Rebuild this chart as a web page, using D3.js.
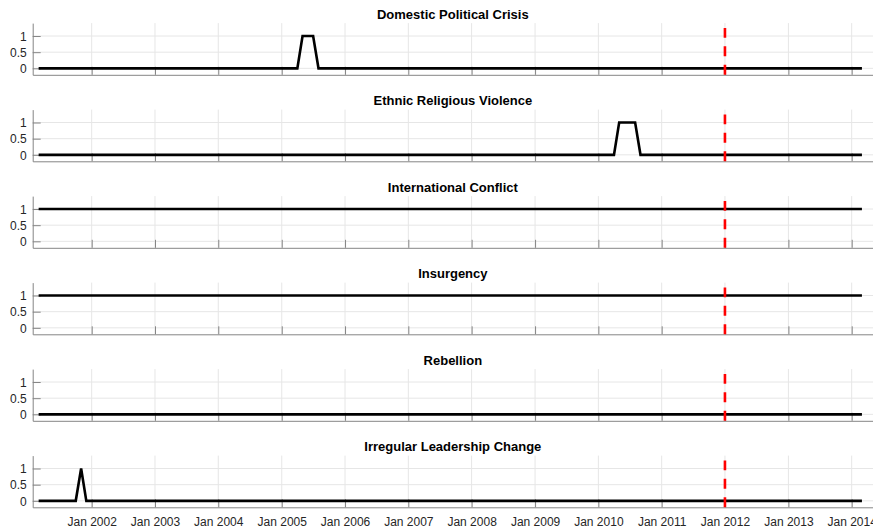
<!DOCTYPE html>
<html>
<head>
<meta charset="utf-8">
<script src="https://cdn.jsdelivr.net/npm/d3@7/dist/d3.min.js"></script>
<style>
  html, body { margin: 0; padding: 0; background: #fff; }
  svg { display: block; font-family: "Liberation Sans", Arial, Helvetica, sans-serif; }
</style>
</head>
<body>
<svg id="chart" width="873" height="530"></svg>
<script>
// Panel titles, top to bottom
const titles = [
  "Domestic Political Crisis",
  "Ethnic Religious Violence",
  "International Conflict",
  "Insurgency",
  "Rebellion",
  "Irregular Leadership Change"
];

// Monthly series, Mar 2001 .. Mar 2014, one group of digits per calendar year
// (2001 starts in March, 2014 ends in March).
const domesticPolitical = "0000000000 000000000000 000000000000 000000000000 000011100000 000000000000 000000000000 000000000000 000000000000 000000000000 000000000000 000000000000 000000000000 000";
const ethnicReligious   = "0000000000 000000000000 000000000000 000000000000 000000000000 000000000000 000000000000 000000000000 000000000000 000011110000 000000000000 000000000000 000000000000 000";
const international     = "1111111111 111111111111 111111111111 111111111111 111111111111 111111111111 111111111111 111111111111 111111111111 111111111111 111111111111 111111111111 111111111111 111";
const insurgency        = "1111111111 111111111111 111111111111 111111111111 111111111111 111111111111 111111111111 111111111111 111111111111 111111111111 111111111111 111111111111 111111111111 111";
const rebellion         = "0000000000 000000000000 000000000000 000000000000 000000000000 000000000000 000000000000 000000000000 000000000000 000000000000 000000000000 000000000000 000000000000 000";
const leadershipChange  = "0000000010 000000000000 000000000000 000000000000 000000000000 000000000000 000000000000 000000000000 000000000000 000000000000 000000000000 000000000000 000000000000 000";

const seriesStrings = [domesticPolitical, ethnicReligious, international, insurgency, rebellion, leadershipChange];

const firstMonth = new Date(2001, 2, 1);   // Mar 2001
const forecastStart = new Date(2012, 0, 1); // split marker
const markerTop = 1.25;                     // upper end of the split marker
const yTicks = [0, 0.5, 1];
const xTickYears = [2002, 2003, 2004, 2005, 2006, 2007, 2008, 2009, 2010, 2011, 2012, 2013, 2014];

const parseSeries = s => s.replace(/\s+/g, "").split("").map(Number);
const series = seriesStrings.map(s => parseSeries(s).map((v, i) => ({
  date: d3.timeMonth.offset(firstMonth, i),
  value: v
})));

// Layout
const svg = d3.select("#chart");
const axLeft = 32.7, axRight = 873;
const panelTop0 = 23.1, panelH = 51.7, panelStep = 86.5;

// Time scale anchored on year ticks, extended to the axis edges
const base = d3.scaleTime()
  .domain([new Date(2002, 0, 1), new Date(2014, 0, 1)])
  .range([91.7, 851.7]);
const x = d3.scaleTime()
  .domain([base.invert(axLeft), base.invert(axRight)])
  .range([axLeft, axRight]);

const axisColor = "#858585";
const gridColor = "#e6e6e6";
const textColor = "#262626";

series.forEach((data, k) => {
  const top = panelTop0 + k * panelStep;
  const bottom = top + panelH;
  const y = d3.scaleLinear().domain([-0.2, 1.4]).range([bottom, top]);
  const g = svg.append("g");

  // grid
  g.selectAll(".vgrid").data(xTickYears).enter().append("line")
    .attr("x1", d => x(new Date(d, 0, 1))).attr("x2", d => x(new Date(d, 0, 1)))
    .attr("y1", top).attr("y2", bottom)
    .attr("stroke", gridColor).attr("stroke-width", 1);
  g.selectAll(".hgrid").data(yTicks).enter().append("line")
    .attr("x1", axLeft).attr("x2", axRight)
    .attr("y1", d => y(d)).attr("y2", d => y(d))
    .attr("stroke", gridColor).attr("stroke-width", 1);

  // y axis (ticks pointing inward)
  const yAxis = d3.axisLeft(y).tickValues(yTicks).tickSize(-8).tickSizeOuter(0)
    .tickFormat(d3.format("~g"));
  const ya = g.append("g").attr("transform", `translate(${axLeft},0)`).call(yAxis);
  ya.select(".domain").attr("stroke", axisColor);
  ya.selectAll(".tick line").attr("stroke", axisColor);
  ya.selectAll(".tick text").attr("fill", textColor).style("font-size", "12px")
    .attr("x", -6).attr("dy", "0.35em");

  // x axis (ticks pointing inward)
  const xAxis = d3.axisBottom(x).tickValues(xTickYears.map(yr => new Date(yr, 0, 1)))
    .tickSize(-8).tickSizeOuter(0)
    .tickFormat(k === series.length - 1 ? d3.timeFormat("Jan %Y") : () => "");
  const xa = g.append("g").attr("transform", `translate(0,${bottom})`).call(xAxis);
  xa.select(".domain").attr("stroke", axisColor);
  xa.selectAll(".tick line").attr("stroke", axisColor);
  xa.selectAll(".tick text").attr("fill", textColor).style("font-size", "12px").attr("y", 10);

  // series line
  const line = d3.line().x(d => x(d.date)).y(d => y(d.value));
  g.append("path").datum(data)
    .attr("fill", "none").attr("stroke", "#000").attr("stroke-width", 2.6)
    .attr("stroke-linejoin", "miter")
    .attr("d", line);

  // dashed marker at Jan 2012
  g.append("line")
    .attr("x1", x(forecastStart)).attr("x2", x(forecastStart))
    .attr("y1", bottom).attr("y2", y(markerTop))
    .attr("stroke", "#ff0000").attr("stroke-width", 2.6)
    .attr("stroke-dasharray", "10,8.5");

  // title
  svg.append("text")
    .attr("x", (axLeft + axRight) / 2).attr("y", top - 4.2)
    .attr("text-anchor", "middle")
    .attr("fill", "#000")
    .style("font-size", "13px").style("font-weight", "bold")
    .text(titles[k]);
});
</script>
</body>
</html>
